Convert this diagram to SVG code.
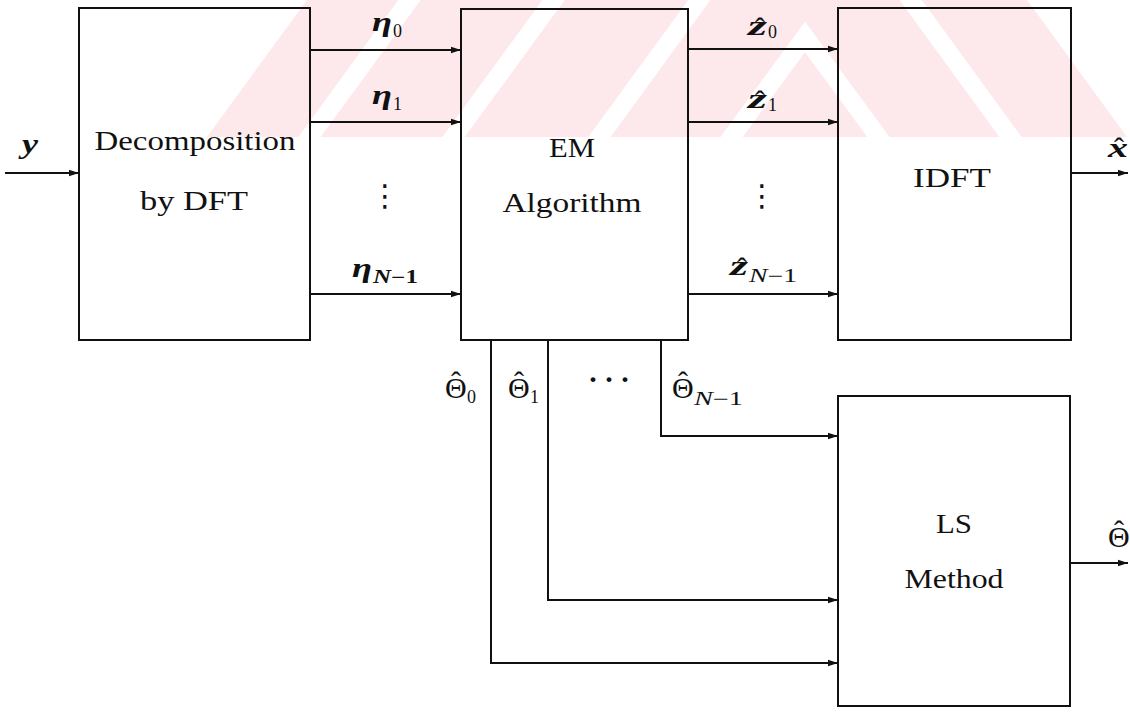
<svg xmlns="http://www.w3.org/2000/svg" width="1130" height="722" viewBox="0 0 1130 722">
<style>
.box{fill:none;stroke:#111;stroke-width:2}
.ln{fill:none;stroke:#111;stroke-width:2}
.arr{marker-end:url(#ah)}
.t{font-family:"Liberation Serif","Times New Roman",serif;font-size:28px;fill:#111;text-anchor:middle}
.bm{font-family:"Liberation Serif","Times New Roman",serif;font-size:27px;font-weight:bold;font-style:italic;fill:#111}
.rm{font-family:"Liberation Serif","Times New Roman",serif;font-size:30px;fill:#111}
.sub{font-family:"Liberation Serif","Times New Roman",serif;font-size:18px;fill:#111}
.subi{font-family:"Liberation Serif","Times New Roman",serif;font-size:18px;font-style:italic;fill:#111}
.subb{font-family:"Liberation Serif","Times New Roman",serif;font-size:18px;font-weight:bold;fill:#111}
.hat{font-family:"Liberation Serif","Times New Roman",serif;font-size:30px;fill:#111;text-anchor:middle}
.dots{font-family:"DejaVu Sans",sans-serif;font-size:30px;fill:#111;text-anchor:middle}
.hdots{font-family:"Liberation Serif","Times New Roman",serif;font-size:30px;font-weight:bold;fill:#111;letter-spacing:6px}
</style>
<defs>
<marker id="ah" viewBox="0 0 10 8" refX="10" refY="4" markerWidth="10" markerHeight="8" markerUnits="userSpaceOnUse" orient="auto">
<path d="M0,0.8 L10,4 L0,7.2 z" fill="#111"/>
</marker>
<clipPath id="wmclip"><rect x="0" y="0" width="1130" height="137"/></clipPath>
</defs>
<rect x="0" y="0" width="1130" height="722" fill="#fff"/>
<g id="watermark" clip-path="url(#wmclip)">
<polygon points="307,0 1027,0 1127,137 207,137" fill="#fde8ec"/>
<g fill="none" stroke="#fff" stroke-width="18">
<polyline points="722,150 805,37 888,150"/>
<polyline points="590,150 805,-145 1020,150"/>
<polyline points="444,150 805,-344 1166,150"/>
<polyline points="300,150 805,-542 1310,150"/>
</g>
</g>
<g id="connectors">
<line class="ln arr" x1="5" y1="173" x2="79" y2="173"/>
<line class="ln arr" x1="310" y1="50" x2="461" y2="50"/>
<line class="ln arr" x1="310" y1="122" x2="461" y2="122"/>
<line class="ln arr" x1="310" y1="294" x2="461" y2="294"/>
<line class="ln arr" x1="688" y1="49" x2="838" y2="49"/>
<line class="ln arr" x1="688" y1="122" x2="838" y2="122"/>
<line class="ln arr" x1="688" y1="294" x2="838" y2="294"/>
<line class="ln arr" x1="1071" y1="173" x2="1128" y2="173"/>
<path class="ln arr" d="M661,340 V436 H838"/>
<path class="ln arr" d="M548,340 V600 H838"/>
<path class="ln arr" d="M491,340 V663 H838"/>
<line class="ln arr" x1="1070" y1="563" x2="1128" y2="563"/>
</g>
<g id="dft">
<rect class="box" x="79" y="8" width="231" height="332"/>
<text class="t" x="195" y="150" textLength="201" lengthAdjust="spacingAndGlyphs">Decomposition</text>
<text class="t" x="194" y="210" textLength="108" lengthAdjust="spacingAndGlyphs">by DFT</text>
</g>
<g id="em">
<rect class="box" x="461" y="9" width="227" height="331"/>
<text class="t" x="572" y="157" textLength="46" lengthAdjust="spacingAndGlyphs">EM</text>
<text class="t" x="572" y="212" textLength="139" lengthAdjust="spacingAndGlyphs">Algorithm</text>
</g>
<g id="idft">
<rect class="box" x="838" y="8" width="233" height="332"/>
<text class="t" x="952" y="187" textLength="78" lengthAdjust="spacingAndGlyphs">IDFT</text>
</g>
<g id="ls">
<rect class="box" x="838" y="396" width="232" height="310"/>
<text class="t" x="954" y="533" textLength="36" lengthAdjust="spacingAndGlyphs">LS</text>
<text class="t" x="954" y="588" textLength="99" lengthAdjust="spacingAndGlyphs">Method</text>
</g>
<g id="labels">
<text class="bm" x="22" y="153" textLength="16" lengthAdjust="spacingAndGlyphs">y</text>
<text class="bm" x="372" y="31" textLength="20" lengthAdjust="spacingAndGlyphs">η</text><text class="sub" x="393" y="37">0</text>
<text class="bm" x="372" y="104" textLength="20" lengthAdjust="spacingAndGlyphs">η</text><text class="sub" x="393" y="110">1</text>
<text class="bm" x="352" y="277" textLength="20" lengthAdjust="spacingAndGlyphs">η</text><text class="subb" x="373" y="283" textLength="45" lengthAdjust="spacingAndGlyphs"><tspan font-style="italic">N</tspan>−1</text>
<text class="dots" x="385" y="206">⋮</text>
<text class="hat" x="760" y="38">ˆ</text><text class="bm" x="748" y="35" font-size="25" textLength="19" lengthAdjust="spacingAndGlyphs">z</text><text class="sub" x="768" y="38">0</text>
<text class="hat" x="760" y="111">ˆ</text><text class="bm" x="748" y="108" font-size="25" textLength="19" lengthAdjust="spacingAndGlyphs">z</text><text class="sub" x="768" y="111">1</text>
<text class="hat" x="742" y="278">ˆ</text><text class="bm" x="730" y="275" font-size="25" textLength="18" lengthAdjust="spacingAndGlyphs">z</text><text class="subi" x="749" y="282" textLength="48" lengthAdjust="spacingAndGlyphs">N<tspan font-style="normal">−1</tspan></text>
<text class="dots" x="762" y="206">⋮</text>
<text class="hat" x="1119" y="158">ˆ</text><text class="bm" x="1108" y="157" textLength="20" lengthAdjust="spacingAndGlyphs">x</text>
<text class="hat" x="456" y="392">ˆ</text><text class="rm" x="445" y="398">Θ</text><text class="sub" x="467" y="403">0</text>
<text class="hat" x="519" y="392">ˆ</text><text class="rm" x="508" y="398">Θ</text><text class="sub" x="530" y="403">1</text>
<text class="hdots" x="588" y="389">···</text>
<text class="hat" x="683" y="392">ˆ</text><text class="rm" x="672" y="398">Θ</text><text class="subi" x="694" y="405" textLength="49" lengthAdjust="spacingAndGlyphs">N<tspan font-style="normal">−1</tspan></text>
<text class="hat" x="1119" y="541">ˆ</text><text class="rm" x="1108" y="547">Θ</text>
</g>
</svg>
